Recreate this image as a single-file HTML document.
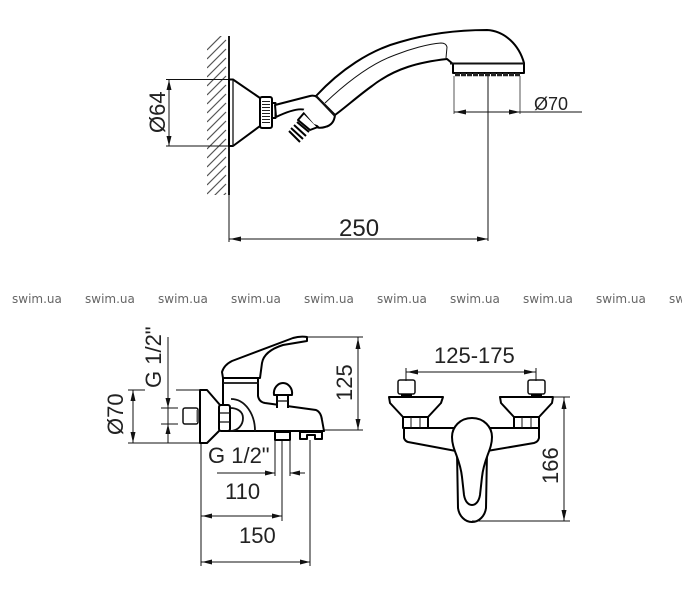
<!DOCTYPE html>
<html><head><meta charset="utf-8"><style>
html,body{margin:0;padding:0;background:#fff}
svg{display:block}
text{font-family:"Liberation Sans",sans-serif;font-size:22px;fill:#222}
.w{font-family:"DejaVu Sans",sans-serif;font-size:12px;fill:#666}
.t{fill:none;stroke:#111;stroke-width:1}
.o{fill:#fff;stroke:#000;stroke-width:2;stroke-linejoin:round}
.m{fill:none;stroke:#111;stroke-width:1.3}
.a{fill:#111;stroke:none}
</style></head><body>
<svg width="682" height="600" viewBox="0 0 682 600" xmlns="http://www.w3.org/2000/svg">
<defs>
<clipPath id="c"><rect x="207" y="36" width="20" height="159"/></clipPath>
</defs>
<rect width="682" height="600" fill="#fff"/>

<!-- wall -->
<path clip-path="url(#c)" fill="none" stroke="#555" stroke-width="1.2" d="M207 50L226 31M207 59L226 40M207 68L226 49M207 77L226 58M207 86L226 67M207 95L226 76M207 104L226 85M207 113L226 94M207 122L226 103M207 131L226 112M207 140L226 121M207 149L226 130M207 158L226 139M207 167L226 148M207 176L226 157M207 185L226 166M207 194L226 175M207 203L226 184M207 212L226 193"/>
<path fill="none" stroke="#000" stroke-width="1.800" d="M229 36V195"/>
<path class="t" d="M229 195V242"/>

<!-- shower dims -->
<path class="t" d="M166 79.500H230M166 146H230M169 80V146"/>
<polygon class="a" points="169,80 166.500,90 171.500,90"/><polygon class="a" points="169,146 166.500,136 171.500,136"/>
<text transform="translate(165,133) rotate(-90)">Ø64</text>
<path class="t" d="M229 239H488M488 76V241"/>
<polygon class="a" points="230,239 241,236.500 241,241.500"/><polygon class="a" points="488,239 477,236.500 477,241.500"/>
<text x="339" y="236" style="font-size:24px">250</text>
<path class="t" style="stroke:#555" d="M454 76V114M520 76V114"/>
<path class="t" d="M454 112H582"/>
<polygon class="a" points="455,112 466,109.500 466,114.500"/><polygon class="a" points="520,112 509,109.500 509,114.500"/>
<text x="534" y="110" style="font-size:18px">Ø70</text>

<!-- mount -->
<path class="o" d="M229 79.500H233L260 98V126L233 146H229Z"/>
<path class="m" d="M233 80V146"/>
<rect class="o" x="260" y="97" width="12" height="31" rx="2"/>
<path fill="none" stroke="#222" stroke-width="1" d="M262 101.500H270M262 104.500H270M262 107.500H270M262 110.500H270M262 113.500H270M262 116.500H270M262 119.500H270M262 122.500H270"/>
<rect class="o" x="272" y="103" width="3.500" height="15"/>

<!-- hose connector -->
<path fill="none" stroke="#000" stroke-width="2" d="M297 122L309 132M294 125L306 136M291 128L303 139M289 131L300 142"/>
<path class="o" d="M275 105L310 96Q314 95 317 97L335 115Q334 125 325 127 319 129 315 126L305 110Q297 107 276 117Z"/>
<path class="o" d="M304 113L318 127 310 130 298 120Z"/>
<path fill="#fff" stroke="none" d="M303 111L314 124 320 126 330 118 316 100 306 106Z"/>

<!-- shower handle -->
<path class="o" d="M316 96C340 70 370 50 400 42 430 33 460 30 487 30 505 31 519 45 524 63V73H453V64L447 59C420 62 395 68 372 86 358 96 346 107 335 115Z"/>
<path class="m" d="M325 103C345 84 370 64 395 55 410 49 428 44 441 43Q446 43 447 47L446 58" style="stroke-width:1"/>
<path class="m" style="stroke-width:2" d="M316 96L335 116M450 63.500H524"/>
<path d="M455 74.500H521" stroke="#222" stroke-width="3.500" stroke-dasharray="5 1" fill="none"/>

<!-- watermark -->
<text class="w" x="12" y="303">swim.ua</text>
<text class="w" x="85" y="303">swim.ua</text>
<text class="w" x="158" y="303">swim.ua</text>
<text class="w" x="231" y="303">swim.ua</text>
<text class="w" x="304" y="303">swim.ua</text>
<text class="w" x="377" y="303">swim.ua</text>
<text class="w" x="450" y="303">swim.ua</text>
<text class="w" x="523" y="303">swim.ua</text>
<text class="w" x="596" y="303">swim.ua</text>
<text class="w" x="669" y="303">swim.ua</text>

<!-- faucet side -->
<path class="t" d="M168 337V443M161 408H178M161 424H178M128 443H205M128 390H145M176 390H200M133 390V443"/>
<polygon class="a" points="168,408 165.500,398 170.500,398"/><polygon class="a" points="168,424 165.500,434 170.500,434"/>
<polygon class="a" points="133,390 130.500,401 135.500,401"/><polygon class="a" points="133,443 130.500,432 135.500,432"/>
<text transform="translate(161,388) rotate(-90)">G 1/2"</text>
<text transform="translate(123,435) rotate(-90)">Ø70</text>
<rect class="m" x="183" y="408" width="15" height="16" rx="2" style="stroke-width:1.500"/>
<path d="M198 410V422" stroke="#555" stroke-width="3" fill="none"/>
<path class="o" d="M200 390H207L220 405V430L207 443H200Z"/>
<path class="o" d="M223 405V378H258V396Q259 402 265 403L316 410Q321 412 322 420L324 431H223Z"/>
<path class="o" d="M222 372Q224 365 232 361L293 338Q300 336 307 337V341L283 345Q264 351 262 363L260 378H223Z"/>
<path class="m" d="M223 383H259" style="stroke-width:1.800"/>
<path class="m" d="M231 399C245 399 255 414 255 431M230 408C238 408 243 412 243 418 243 425 238 431 230 431" style="stroke-width:1.800"/>
<rect class="o" x="219" y="405" width="11" height="26" rx="2"/>
<path class="m" d="M220 413H230M220 422H230"/>
<path class="o" d="M277 408V394H288V408"/>
<path class="o" d="M274 395C273 388 278 383 283 383 288 383 293 388 292 395Z"/>
<path class="m" d="M277 401H288"/>
<rect class="o" x="275" y="432" width="15" height="8"/>
<path class="o" d="M300 432H322V439H315V435H307V439H300Z"/>

<!-- faucet dims -->
<path class="t" d="M307 337H363M324 430H363M358 337V430"/>
<polygon class="a" points="358,338 355.500,349 360.500,349"/><polygon class="a" points="358,430 355.500,419 360.500,419"/>
<text transform="translate(352,401) rotate(-90)">125</text>
<path class="t" d="M201 444V566M275 441V476M290 441V476M282 441V521M310 440V566M217 473H275M290 473H305M201 516H282M201 562H310"/>
<polygon class="a" points="275,473 265,470.500 265,475.500"/><polygon class="a" points="290,473 300,470.500 300,475.500"/>
<polygon class="a" points="202,516 212,513.500 212,518.500"/><polygon class="a" points="282,516 272,513.500 272,518.500"/>
<polygon class="a" points="202,562 212,559.500 212,564.500"/><polygon class="a" points="310,562 300,559.500 300,564.500"/>
<text x="208" y="463">G 1/2"</text>
<text x="225" y="499">110</text>
<text x="239" y="543">150</text>

<!-- faucet front -->
<text x="434" y="363">125-175</text>
<path class="t" d="M406 368V381M536 368V381M406 372H536"/>
<polygon class="a" points="407,372 418,369.500 418,374.500"/><polygon class="a" points="535,372 524,369.500 524,374.500"/>
<rect class="m" x="398" y="380" width="17" height="14" rx="2" style="stroke-width:1.500"/>
<rect class="m" x="528" y="380" width="17" height="14" rx="2" style="stroke-width:1.500"/>
<path d="M401 395.500H412M531 395.500H542" stroke="#000" stroke-width="3" fill="none"/>
<path class="o" d="M404 428H539V438Q538 442 534 443L487 451H456L408 442Q405 441 404 438Z"/>
<path class="o" d="M389 397H443L441 403 428 417H403L390 403Z"/>
<path class="o" d="M500 397H553L552 403 539 417H514L501 403Z"/>
<rect class="o" x="403" y="417" width="25" height="11"/>
<rect class="o" x="514" y="417" width="25" height="11"/>
<path class="t" d="M411 417V428M420 417V428M522 417V428M531 417V428"/>
<path class="o" d="M457 452L458 508C459 516 465 522 472 522 479 522 485 516 486 508L487 452Z"/>
<path class="o" d="M472 418C484 418 492 427 492 437 492 450 484 458 482 477L480 495C479 501 476 505 472 505 468 505 465 501 464 495L462 477C460 458 452 450 452 437 452 427 460 418 472 418Z"/>
<path class="t" d="M553 397H570M472 521H570M564 397V521"/>
<polygon class="a" points="564,398 561.500,409 566.500,409"/><polygon class="a" points="564,521 561.500,510 566.500,510"/>
<text transform="translate(558,484) rotate(-90)">166</text>
</svg>
</body></html>
